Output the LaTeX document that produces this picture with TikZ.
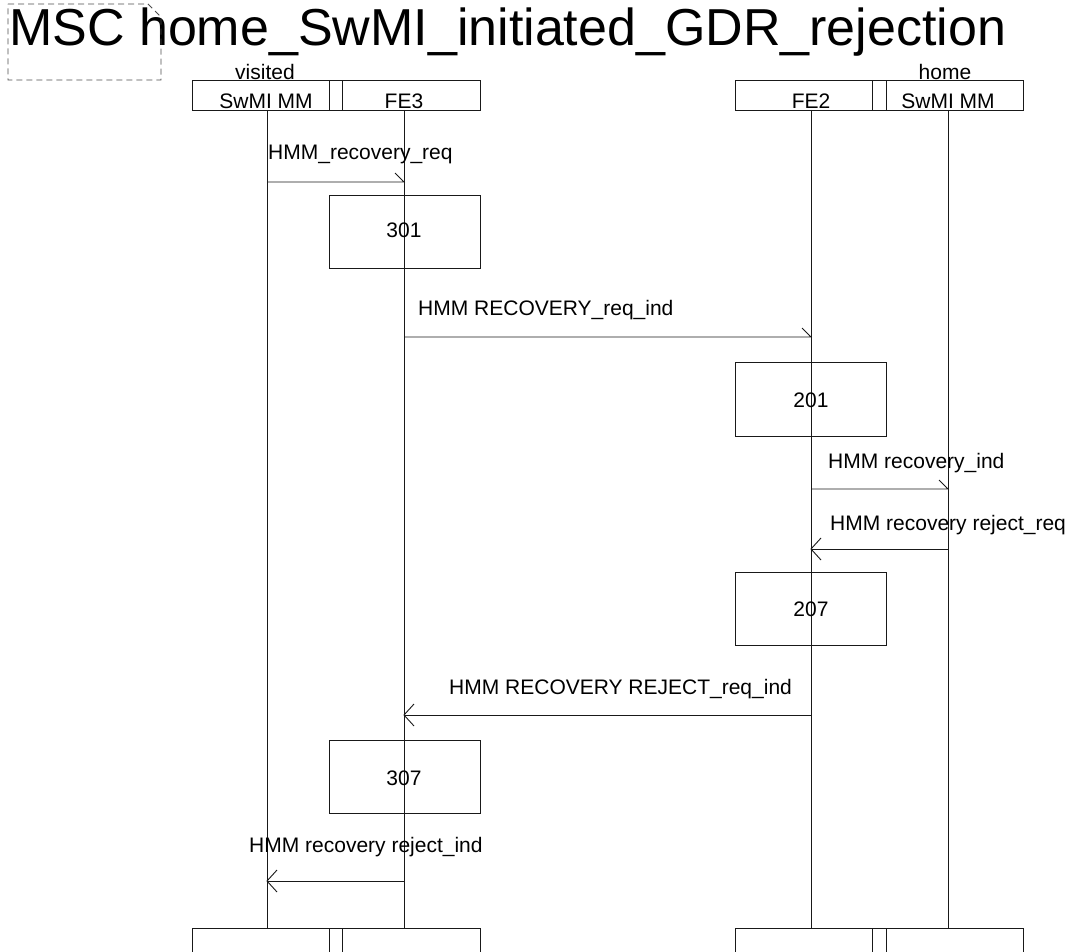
\documentclass[tikz,border=0pt]{standalone}
\usepackage{fontspec}
\setmainfont{Liberation Sans}
\usetikzlibrary{calc}
\begin{document}
\begin{tikzpicture}[x=1pt,y=-1pt,
  ln/.style={draw=black!90,line width=0.9pt},
  lbl/.style={anchor=base west,inner sep=0pt,font=\fontsize{21}{24}\selectfont},
  ctr/.style={anchor=base,inner sep=0pt,font=\fontsize{21}{24}\selectfont}]
\useasboundingbox (0,0) rectangle (1074,952);
% title and frame corner
\node[anchor=base west,inner sep=0pt,font=\fontsize{52}{56}\selectfont] (title) at (9,46) {MSC home\_SwMI\_initiated\_GDR\_rejection};
\draw[draw=black!70,line width=0.9pt,dash pattern=on 6pt off 4pt] (8,4) -- (148,4) -- (161,17) -- (161,80) -- (8,80) -- cycle;
% header boxes
\draw[ln] (192,80) rectangle (480,110);
\draw[ln] (329,80) rectangle (342,110);
\draw[ln] (735,80) rectangle (1023,110);
\draw[ln] (872,80) rectangle (886,110);
\node[ctr] (vis) at (265,80) {visited};
\node[ctr] (hom) at (945,80) {home};
\node[ctr] (h1) at (266,109) {SwMI MM};
\node[ctr] (h2) at (404,109) {FE3};
\node[ctr] (h3) at (811,109) {FE2};
\node[ctr] (h4) at (948,109) {SwMI MM};
% bottom boxes
\draw[ln] (192,962) -- (192,928) -- (480,928) -- (480,962);
\draw[ln] (329,962) -- (329,928) -- (342,928) -- (342,962);
\draw[ln] (735,962) -- (735,928) -- (1023,928) -- (1023,962);
\draw[ln] (872,962) -- (872,928) -- (886,928) -- (886,962);
% lifelines
\coordinate (t1) at (267,110); \coordinate (b1) at (267,928);
\coordinate (t2) at (404,110); \coordinate (b2) at (404,928);
\coordinate (t3) at (811,110); \coordinate (b3) at (811,928);
\coordinate (t4) at (948,110); \coordinate (b4) at (948,928);
\draw[ln] (t1) -- (b1);
\draw[ln] (t2) -- (b2);
\draw[ln] (t3) -- (b3);
\draw[ln] (t4) -- (b4);
% action boxes
\draw[ln] (329,195) rectangle (480,268); \node[ctr] (a301) at (404,238) {301};
\draw[ln] (735,362) rectangle (886,436); \node[ctr] (a201) at (811,407) {201};
\draw[ln] (735,572) rectangle (886,645); \node[ctr] (a207) at (811,616) {207};
\draw[ln] (329,740) rectangle (480,813); \node[ctr] (a307) at (404,785) {307};
% messages
\coordinate (m1a) at (267,182); \coordinate (m1b) at (404,182);
\draw[ln] (m1a) -- (m1b) -- ++(-9,-9);
\node[lbl] (l1) at (268,160) {HMM\_recovery\_req};
\coordinate (m2a) at (404,337); \coordinate (m2b) at (811,337);
\draw[ln] (m2a) -- (m2b) -- ++(-9,-9);
\node[lbl] (l2) at (418,316) {HMM RECOVERY\_req\_ind};
\coordinate (m3a) at (811,489); \coordinate (m3b) at (948,489);
\draw[ln] (m3a) -- (m3b) -- ++(-9,-9);
\node[lbl] (l3) at (828,468) {HMM recovery\_ind};
\coordinate (m4a) at (948,549); \coordinate (m4b) at (811,549);
\draw[ln] (m4a) -- (m4b);
\draw[ln] ($(m4b)+(10,-11)$) -- (m4b) -- ++(10,11);
\node[lbl] (l4) at (830,530) {HMM recovery reject\_req};
\coordinate (m5a) at (811,715); \coordinate (m5b) at (404,715);
\draw[ln] (m5a) -- (m5b);
\draw[ln] ($(m5b)+(10,-11)$) -- (m5b) -- ++(10,11);
\node[lbl] (l5) at (449,694) {HMM RECOVERY REJECT\_req\_ind};
\coordinate (m6a) at (404,881); \coordinate (m6b) at (267,881);
\draw[ln] (m6a) -- (m6b);
\draw[ln] ($(m6b)+(10,-11)$) -- (m6b) -- ++(10,11);
\node[lbl] (l6) at (249,852) {HMM recovery reject\_ind};
\end{tikzpicture}
\end{document}
